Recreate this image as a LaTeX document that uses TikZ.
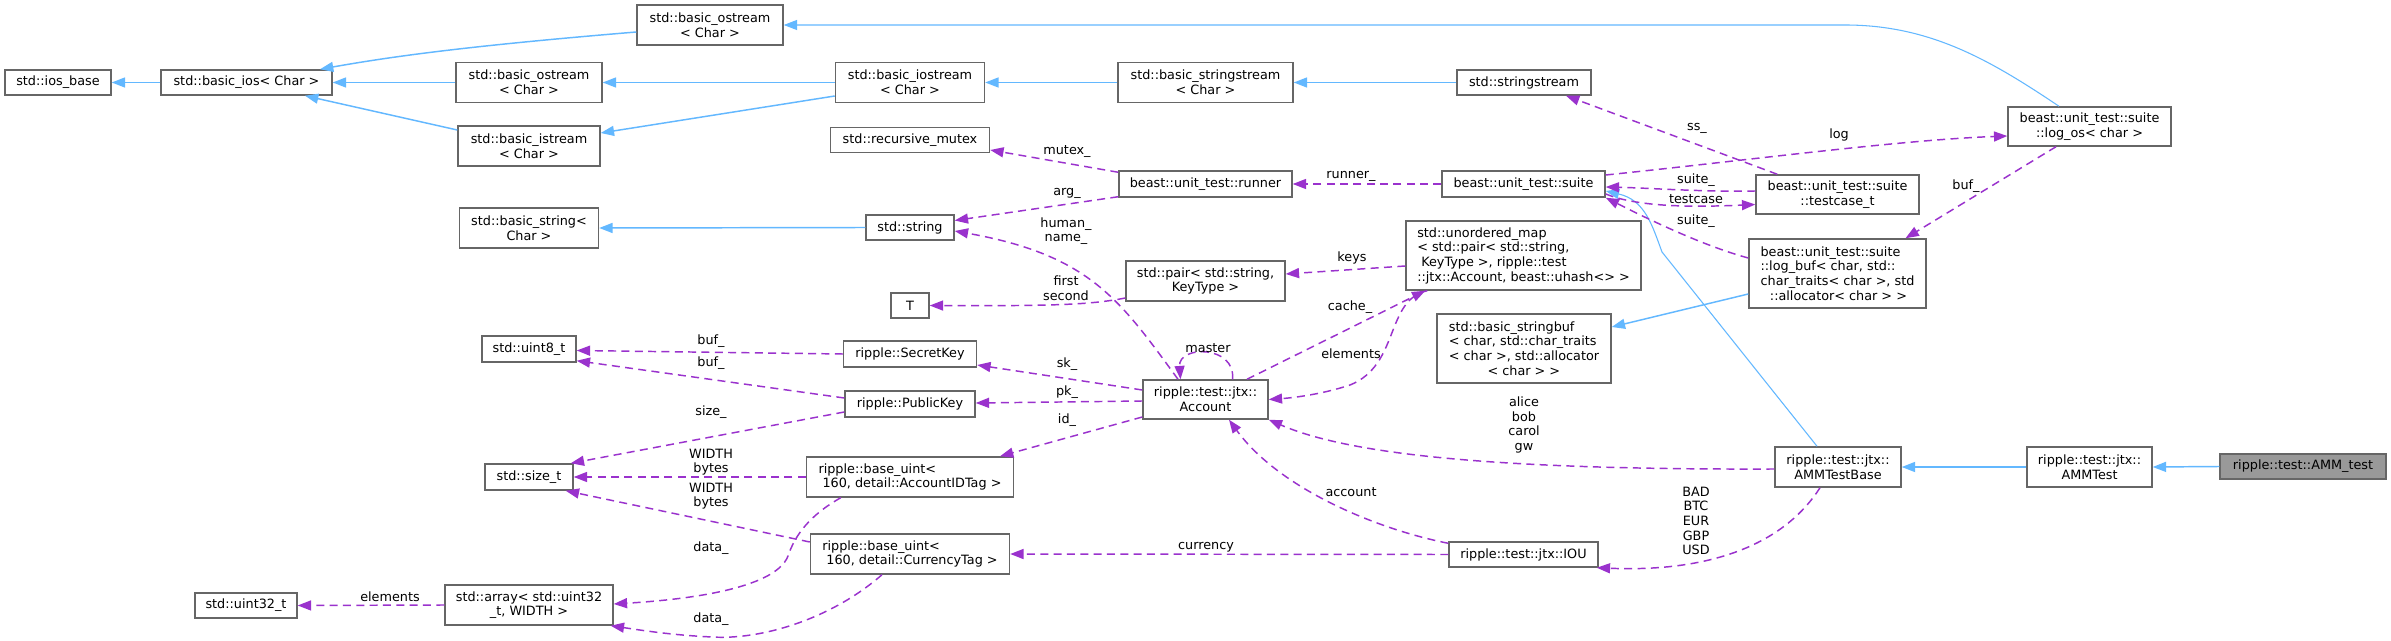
\documentclass[tikz,border=0pt]{standalone}
\usepackage{fontspec}
\setmainfont{DejaVu Sans}
\usetikzlibrary{arrows.meta,calc}
\definecolor{dxblue}{HTML}{63B8FF}
\definecolor{dxpurple}{HTML}{9A32CD}
\definecolor{dxgrey}{HTML}{666666}
\definecolor{dxfill}{HTML}{999999}
\tikzset{
  cls/.style 2 args={draw=dxgrey,fill=white,line width=1.1pt,inner sep=0pt,align=center,
    minimum width=#1*0.75pt,minimum height=#2*0.75pt,font=\fontsize{9.6}{11}\selectfont},
  lbl/.style={inner sep=0pt,align=center,font=\fontsize{9.6}{11}\selectfont},
  inhe/.style={draw=dxblue,line width=1.1pt,-{Triangle[length=10pt,width=7.5pt]}},
  inhthin/.style={draw=dxblue,line width=0.8pt,-{Triangle[length=10pt,width=7.5pt]}},
  usee/.style={draw=dxpurple,line width=1.1pt,dash pattern=on 6pt off 4pt,-{Triangle[length=10pt,width=7.5pt]}},
}
\begin{document}
\begin{tikzpicture}[x=0.75pt,y=-0.75pt]
\useasboundingbox (0,0) rectangle (2391,641);
\fill[white] (0,0) rectangle (2391,641);

% nodes
\node[cls={106}{25}] (ios) at (58,82.5) {std::ios\_base};
\node[cls={171}{25}] (bios) at (246.5,82.5) {std::basic\_ios< Char >};
\node[cls={146}{40}] (ostop) at (710,25) {std::basic\_ostream\\< Char >};
\node[cls={146}{40}] (osmid) at (529,82.5) {std::basic\_ostream\\< Char >};
\node[cls={142}{40}] (istr) at (529,146) {std::basic\_istream\\< Char >};
\node[cls={149}{40}] (iostr) at (910,82.5) {std::basic\_iostream\\< Char >};
\node[cls={175}{40}] (bss) at (1205.5,82.5) {std::basic\_stringstream\\< Char >};
\node[cls={134}{25}] (ss) at (1524,82.5) {std::stringstream};
\node[cls={159}{25}] (rmx) at (910,140) {std::recursive\_mutex};
\node[cls={139}{40}] (bstr) at (529,228) {std::basic\_string<\\Char >};
\node[cls={88}{25}] (str) at (910,227.5) {std::string};
\node[cls={38}{25}] (T) at (910,305.5) {T};
\node[cls={94}{26}] (u8) at (529,349) {std::uint8\_t};
\node[cls={133}{26}] (sk) at (910,354) {ripple::SecretKey};
\node[cls={130}{26}] (pk) at (910,404) {ripple::PublicKey};
\node[cls={88}{26}] (szt) at (529,477) {std::size\_t};
\node[cls={207}{40},align=left] (aid) at (910,477) {ripple::base\_uint<\\\hspace*{3pt}160, detail::AccountIDTag >};
\node[cls={199}{40},align=left] (cur) at (910,554) {ripple::base\_uint<\\\hspace*{3pt}160, detail::CurrencyTag >};
\node[cls={168}{40}] (arr) at (529,605) {std::array< std::uint32\\\_t, WIDTH >};
\node[cls={102}{25}] (u32) at (246,605.5) {std::uint32\_t};
\node[cls={173}{26}] (run) at (1205.5,184) {beast::unit\_test::runner};
\node[cls={163}{26}] (suite) at (1523.5,184) {beast::unit\_test::suite};
\node[cls={235}{69},align=left] (umap) at (1523.5,255.5) {std::unordered\_map\\< std::pair< std::string,\\\hspace*{3pt}KeyType >, ripple::test\\::jtx::Account, beast::uhash<> >};
\node[cls={159}{40}] (pair) at (1205.5,281) {std::pair< std::string,\\KeyType >};
\node[cls={174}{69},align=left] (sbuf) at (1524,348.5) {std::basic\_stringbuf\\< char, std::char\_traits\\< char >, std::allocator\\\hspace*{29pt}< char > >};
\node[cls={125}{39}] (acct) at (1205.5,399.5) {ripple::test::jtx::\\Account};
\node[cls={149}{25}] (iou) at (1523.5,554.5) {ripple::test::jtx::IOU};
\node[cls={163}{39}] (logos) at (2089.5,126.5) {beast::unit\_test::suite\\::log\_os< char >};
\node[cls={163}{39}] (tcase) at (1837.5,194.5) {beast::unit\_test::suite\\::testcase\_t};
\node[cls={177}{69},align=left] (lbuf) at (1837.5,273.5) {beast::unit\_test::suite\\::log\_buf< char, std::\\char\_traits< char >, std\\\hspace*{7pt}::allocator< char > >};
\node[cls={126}{40}] (ammb) at (1838,467) {ripple::test::jtx::\\AMMTestBase};
\node[cls={125}{40}] (ammt) at (2089.5,467) {ripple::test::jtx::\\AMMTest};
\node[cls={166}{25},fill=dxfill] (amm) at (2303,466.5) {ripple::test::AMM\_test};

% inheritance edges
\draw[inhe] (bios.west) -- (ios.east);
\draw[inhe] ($(ostop.west)+(0,7)$) .. controls (480,45) and (400,55) .. ($(bios.north)+(73.5,0)$);
\draw[inhe] (osmid.west) -- (bios.east);
\draw[inhe] ($(istr.west)+(0,-16)$) -- ($(bios.south)+(58.5,0)$);
\draw[inhe] (iostr.west) -- (osmid.east);
\draw[inhe] ($(iostr.west)+(0,13.5)$) -- ($(istr.east)+(0,-13)$);
\draw[inhe] (bss.west) -- (iostr.east);
\draw[inhe] (ss.west) -- (bss.east);
\draw[inhthin] ($(logos.north)+(-30.5,0)$) .. controls (1990,60) and (1930,25) .. (1845,25) -- (ostop.east);
\draw[inhe] (str.west) -- (bstr.east);
\draw[inhe] ($(lbuf.west)+(0,20.5)$) -- ($(sbuf.east)+(0,-21.5)$);
\draw[inhthin] ($(ammb.north)+(-21,0)$) -- (1662,252) .. controls (1652,225) and (1645,200) .. ($(suite.east)+(0,7)$);
\draw[inhe] (ammt.west) -- (ammb.east);
\draw[inhe] (amm.west) -- (ammt.east);

% usage edges
\draw[usee] ($(run.north west)+(0,2)$) -- ($(rmx.east)+(0,10)$);
\draw[usee] ($(run.south west)+(0,-1)$) -- ($(str.east)+(0,-7)$);
\draw[usee] (suite.west) -- (run.east);
\draw[usee] ($(tcase.north west)+(22,0)$) -- ($(ss.south)+(42,0)$);
\draw[usee] ($(suite.east)+(0,-9)$) .. controls (1750,160) and (1900,140) .. ($(logos.west)+(0,9.5)$);
\draw[usee] ($(tcase.west)+(0,-3.5)$) .. controls (1700,192) and (1650,188) .. ($(suite.east)+(0,3)$);
\draw[usee] ($(suite.east)+(0,10)$) .. controls (1640,208) and (1700,207) .. ($(tcase.west)+(0,10)$);
\draw[usee] ($(lbuf.west)+(0,-15.5)$) .. controls (1700,245) and (1640,215) .. (suite.south east);
\draw[usee] ($(logos.south)+(-33.5,0)$) -- ($(lbuf.north)+(68,0)$);
\draw[usee] ($(pair.west)+(0,17)$) .. controls (1090,305) and (1050,306) .. (T.east);
\draw[usee] ($(acct.north)+(-27.5,0)$) .. controls (1120,300) and (1090,255) .. ($(str.east)+(0,3.5)$);
\draw[usee] ($(umap.west)+(0,10.5)$) -- ($(pair.east)+(0,-7)$);
\draw[usee] ($(acct.north)+(41.5,0)$) -- ($(umap.south west)+(20,0)$);
\draw[usee] ($(umap.south west)+(22,0)$) .. controls (1385,300) and (1400,365) .. (1350,385) .. controls (1320,395) and (1290,398) .. (acct.east);
\draw[usee] ($(acct.north)+(27,0)$) .. controls (1236,345) and (1178,345) .. ($(acct.north)+(-25,0)$);
\draw[usee] ($(acct.west)+(0,-9.5)$) -- ($(sk.east)+(0,11)$);
\draw[usee] ($(acct.west)+(0,1.5)$) -- ($(pk.east)+(0,-1)$);
\draw[usee] ($(acct.west)+(0,17.5)$) -- ($(aid.north)+(90,0)$);
\draw[usee] (sk.west) -- ($(u8.east)+(0,1.5)$);
\draw[usee] ($(pk.west)+(0,-6)$) -- ($(u8.south east)+(0,-2)$);
\draw[usee] ($(pk.west)+(0,8)$) -- ($(szt.north east)+(-3,0)$);
\draw[usee] (aid.west) -- (szt.east);
\draw[usee] ($(cur.west)+(0,-12)$) -- ($(szt.south east)+(-8,0)$);
\draw[usee] ($(aid.south west)+(35,0)$) .. controls (810,515) and (795,535) .. (788,556) .. controls (775,590) and (680,600) .. ($(arr.east)+(0,-1)$);
\draw[usee] ($(cur.south)+(-28,0)$) .. controls (830,620) and (760,640) .. (712,637) .. controls (670,635) and (640,630) .. ($(arr.south east)+(-3,0)$);
\draw[usee] (arr.west) -- (u32.east);
\draw[usee] ($(iou.north west)+(0,2)$) .. controls (1380,530) and (1280,490) .. ($(acct.south)+(23.5,0)$);
\draw[usee] (iou.west) -- (cur.east);
\draw[usee] ($(ammb.west)+(0,2)$) .. controls (1500,470) and (1350,455) .. (acct.south east);
\draw[usee] ($(ammb.south)+(-18,0)$) .. controls (1780,550) and (1700,572) .. ($(iou.south east)+(-2,0)$);

% labels
\node[lbl] (Lmutex) at (1067,152) {mutex\_};
\node[lbl] (Larg) at (1067,193) {arg\_};
\node[lbl] (Lhuman) at (1066,231) {human\_\\name\_};
\node[lbl] (Lfirst) at (1066,288) {first\\second};
\node[lbl] (Lrunner) at (1351,176) {runner\_};
\node[lbl] (Lss) at (1697,128) {ss\_};
\node[lbl] (Llog) at (1839,135) {log};
\node[lbl] (Lsuite1) at (1696,180) {suite\_};
\node[lbl] (Ltestcase) at (1696,199) {testcase};
\node[lbl] (Lsuite2) at (1696,221) {suite\_};
\node[lbl] (Lbuf1) at (1966,186) {buf\_};
\node[lbl] (Lkeys) at (1352,258) {keys};
\node[lbl] (Lcache) at (1350,307) {cache\_};
\node[lbl] (Lelem) at (1351,354) {elements};
\node[lbl] (Lmaster) at (1208,348) {master};
\node[lbl] (Lsk) at (1067,364) {sk\_};
\node[lbl] (Lpk) at (1067,392) {pk\_};
\node[lbl] (Lid) at (1067,420) {id\_};
\node[lbl] (Lalice) at (1524,425) {alice\\bob\\carol\\gw};
\node[lbl] (Laccount) at (1351,492) {account};
\node[lbl] (Lcurrency) at (1206,547) {currency};
\node[lbl] (Lbad) at (1696,521) {BAD\\BTC\\EUR\\GBP\\USD};
\node[lbl] (Lbuf2) at (711,341) {buf\_};
\node[lbl] (Lbuf3) at (711,363) {buf\_};
\node[lbl] (Lsize) at (711,412) {size\_};
\node[lbl] (Lw1) at (711,462) {WIDTH\\bytes};
\node[lbl] (Lw2) at (711,496) {WIDTH\\bytes};
\node[lbl] (Ldata1) at (711,548) {data\_};
\node[lbl] (Ldata2) at (711,619) {data\_};
\node[lbl] (Lelem2) at (390,597) {elements};
\end{tikzpicture}
\end{document}
